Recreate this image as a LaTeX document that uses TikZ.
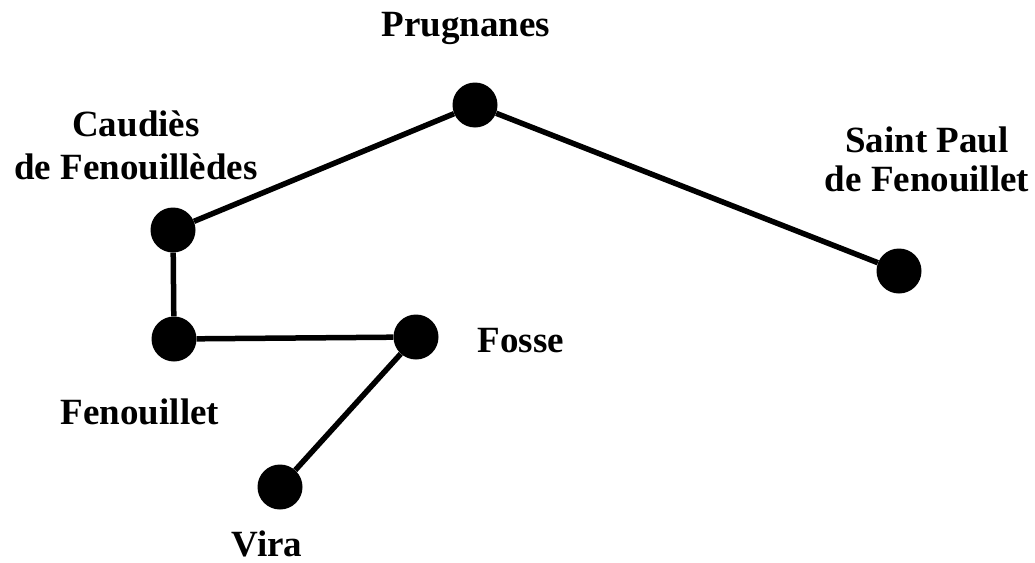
\documentclass[tikz,border=0pt]{standalone}
\usepackage{fontspec}
\setmainfont{Liberation Serif}
\begin{document}
\begin{tikzpicture}[x=1pt,y=-1pt,
  town/.style={circle,fill=black,minimum size=45pt,inner sep=0pt},
  lab/.style={font=\fontsize{37}{43}\selectfont\bfseries,anchor=base,align=center,inner sep=0pt},
  road/.style={line width=5.5pt}]
\useasboundingbox[fill=white] (0,0) rectangle (1035,562);
\node[town] (pru) at (475,105) {};
\node[town] (cau) at (173,230) {};
\node[town] (fen) at (174,339) {};
\node[town] (fos) at (416,337) {};
\node[town] (vir) at (280,487) {};
\node[town] (stp) at (899,271) {};
\draw[road] (cau) -- (pru) -- (stp);
\draw[road] (cau) -- (fen) -- (fos) -- (vir);
\node[lab] (lpru) at (466,36) {Prugnanes};
\node[lab] (lcau) at (136,179) {Caudiès\\de Fenouillèdes};
\node[lab,font=\fontsize{37}{39}\selectfont\bfseries] (lstp) at (927,191) {Saint Paul\\de Fenouillet};
\node[lab] (lfen) at (140,424) {Fenouillet};
\node[lab] (lfos) at (521,352) {Fosse};
\node[lab] (lvir) at (267,556) {Vira};
\end{tikzpicture}
\end{document}
